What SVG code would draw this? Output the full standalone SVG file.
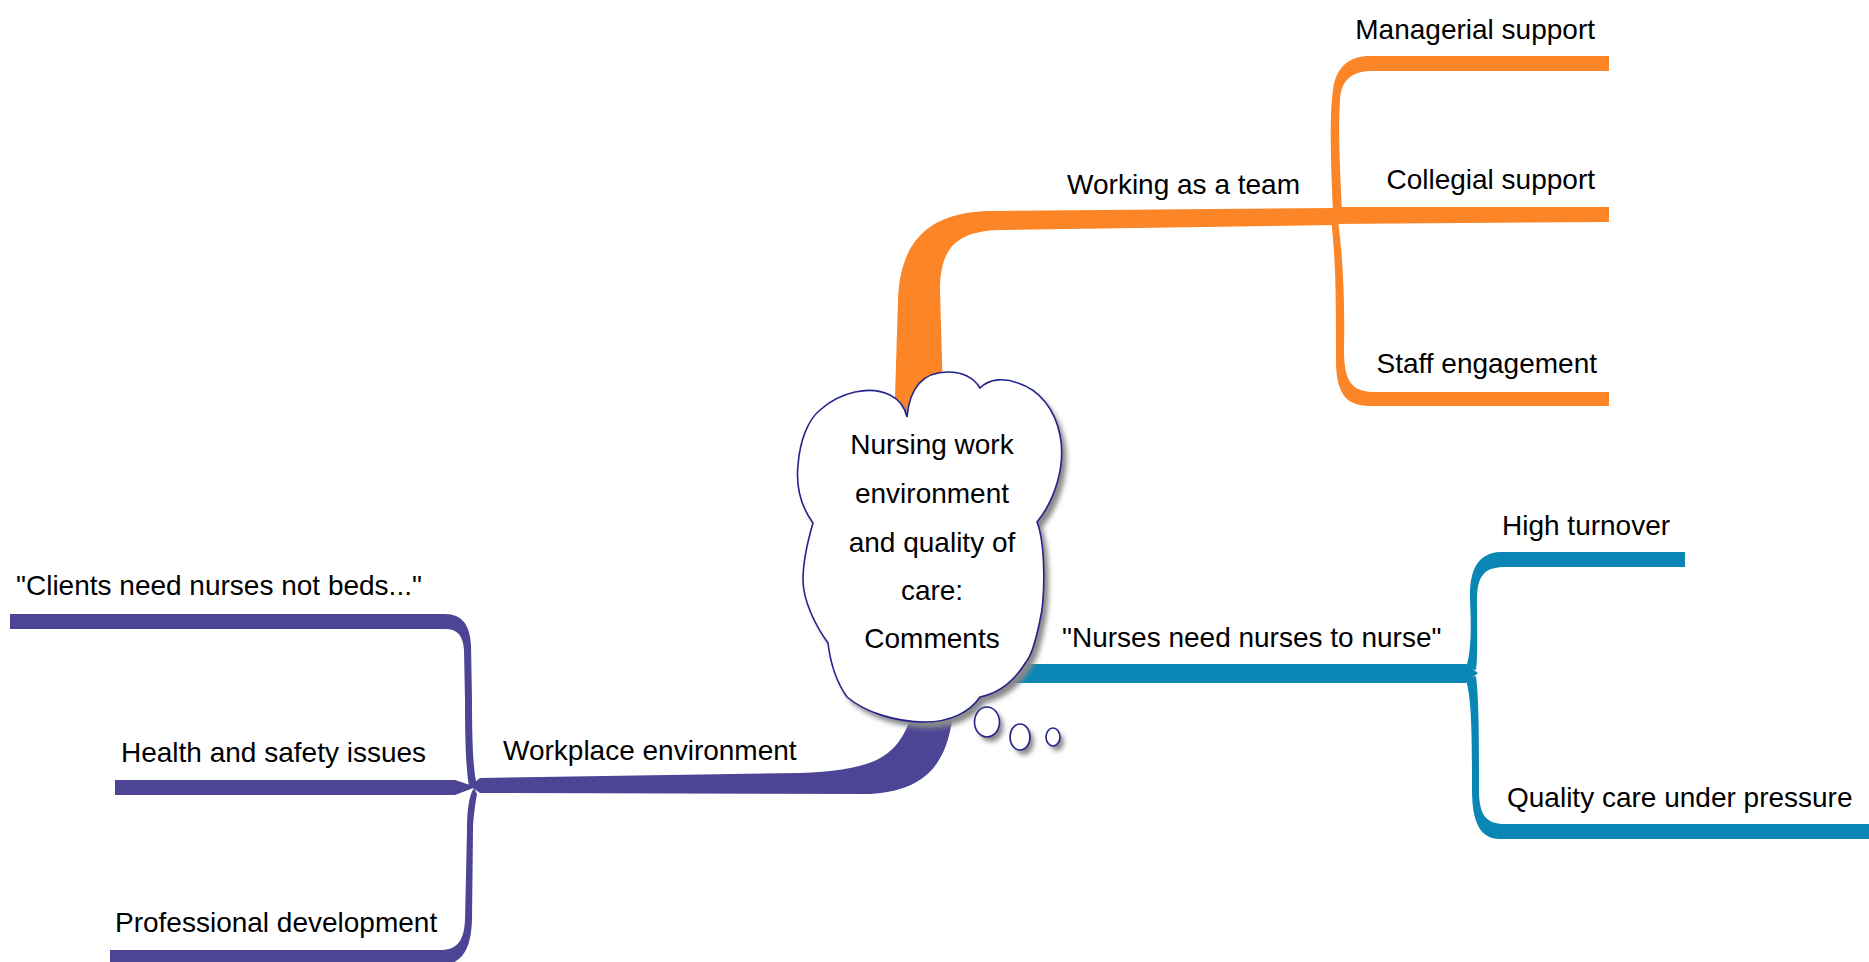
<svg xmlns="http://www.w3.org/2000/svg" width="1869" height="962" viewBox="0 0 1869 962">
<defs>
<style>
.t{font-family:"Liberation Sans",Arial,sans-serif;font-size:28px;fill:#000}
.c{text-anchor:middle}
.e{text-anchor:end}
.or{fill:#FB8527}
.bl{fill:#0A86B4}
.pu{fill:#4C4596}
.cl{fill:#fff;stroke:#23238C;stroke-width:1.6}
</style>
<filter id="sh" x="-20%" y="-20%" width="140%" height="140%">
<feGaussianBlur stdDeviation="2.5"/>
</filter>
</defs>
<rect width="1869" height="962" fill="#fff"/>
<g id="connectors">
<!-- orange -->
<path class="or" d="M894 430 L898 300 C900 240 930 212 990 211 L1335 208 L1335 225 L1000 230 C955 231 940 250 940 290 L944 430 Z"/>
<path class="or" d="M1333 207 L1609 207 L1609 222 L1333 224 Z"/>
<path class="or" d="M1333 212 C1330 150 1330 110 1333 90 C1336 66 1350 56 1370 56 L1609 56 L1609 71 L1372 71 C1352 71 1341 80 1340 100 C1338 130 1340 170 1342 212 Z"/>
<path class="or" d="M1338 220 C1343 260 1345 300 1344 350 C1344 382 1352 392 1375 392 L1609 392 L1609 406 L1370 406 C1345 406 1336 392 1336 360 C1336 300 1336 260 1331 220 Z"/>
<!-- blue -->
<path class="bl" d="M1000 664 L1466 664 L1478 673 L1466 683 L1000 683 Z"/>
<path class="bl" d="M1466 668 C1472 650 1471 620 1470 600 C1469 570 1478 553 1500 552 L1685 552 L1685 567 L1505 567 C1485 567 1477 575 1477 600 C1477 630 1478 655 1476 670 Z"/>
<path class="bl" d="M1476 676 C1479 700 1479 740 1479 790 C1479 815 1486 824 1505 824 L1869 824 L1869 839 L1500 839 C1480 839 1472 822 1472 790 C1472 740 1472 700 1466 680 Z"/>
<!-- purple -->
<path class="pu" d="M955 690 C952 740 945 790 870 794 L480 793 L470 786 L480 778 L800 773 C870 770 895 760 910 720 L925 690 Z"/>
<path class="pu" d="M115 780 L455 780 L476 787 L455 795 L115 795 Z"/>
<path class="pu" d="M10 614 L445 614 C462 614 470 625 471 645 L472 700 C472 740 473 770 477 786 L469 786 C466 770 465 740 465 700 L464 650 C463 636 458 629 445 629 L10 629 Z"/>
<path class="pu" d="M110 950 L440 950 C458 950 464 940 465 920 L467 830 C467 810 469 795 474 788 L477 794 C475 805 473 820 473 830 L472 920 C471 950 462 964 440 966 L110 966 Z"/>
</g>
<g id="center">
<path d="M907 417 C910 385 925 372 948 372 C965 372 975 380 980 388 C990 378 1005 378 1018 383 C1040 390 1055 410 1060 435 C1066 465 1055 500 1037 522 C1046 545 1045 600 1040 620 C1036 640 1032 655 1026 662 C1015 680 1000 693 980 697 C970 712 950 722 925 722 C895 722 865 712 847 697 C835 680 830 660 828 643 C815 625 803 600 803 580 C803 560 808 540 813 523 C800 505 796 485 798 465 C800 440 808 420 820 410 C840 392 870 385 890 395 C900 400 905 408 907 417 Z" fill="#8a8a8a" transform="translate(5,6)" filter="url(#sh)"/>
<path class="cl" d="M907 417 C910 385 925 372 948 372 C965 372 975 380 980 388 C990 378 1005 378 1018 383 C1040 390 1055 410 1060 435 C1066 465 1055 500 1037 522 C1046 545 1045 600 1040 620 C1036 640 1032 655 1026 662 C1015 680 1000 693 980 697 C970 712 950 722 925 722 C895 722 865 712 847 697 C835 680 830 660 828 643 C815 625 803 600 803 580 C803 560 808 540 813 523 C800 505 796 485 798 465 C800 440 808 420 820 410 C840 392 870 385 890 395 C900 400 905 408 907 417 Z"/>
<g fill="#8a8a8a" filter="url(#sh)">
<ellipse cx="991" cy="727" rx="12.5" ry="15"/>
<ellipse cx="1024" cy="742" rx="10" ry="13"/>
<ellipse cx="1057" cy="742" rx="7" ry="9"/>
</g>
<ellipse class="cl" cx="987" cy="722" rx="12.5" ry="15"/>
<ellipse class="cl" cx="1020" cy="737" rx="10" ry="13"/>
<ellipse class="cl" cx="1053" cy="737" rx="7" ry="9"/>
<text class="t c" x="932" y="454">Nursing work</text>
<text class="t c" x="932" y="503">environment</text>
<text class="t c" x="932" y="552">and quality of</text>
<text class="t c" x="932" y="600">care:</text>
<text class="t c" x="932" y="648">Comments</text>
</g>
<g id="n-team"><text class="t e" x="1300" y="194">Working as a team</text></g>
<g id="n-managerial"><text class="t e" x="1595" y="39">Managerial support</text></g>
<g id="n-collegial"><text class="t e" x="1595" y="189">Collegial support</text></g>
<g id="n-staff"><text class="t e" x="1597" y="373">Staff engagement</text></g>
<g id="n-nurses"><text class="t" x="1062" y="647">"Nurses need nurses to nurse"</text></g>
<g id="n-turnover"><text class="t" x="1502" y="535">High turnover</text></g>
<g id="n-quality"><text class="t" x="1507" y="807">Quality care under pressure</text></g>
<g id="n-workplace"><text class="t" x="503" y="760">Workplace environment</text></g>
<g id="n-clients"><text class="t" x="16" y="595">"Clients need nurses not beds..."</text></g>
<g id="n-health"><text class="t" x="121" y="762">Health and safety issues</text></g>
<g id="n-professional"><text class="t" x="115" y="932">Professional development</text></g>
</svg>
